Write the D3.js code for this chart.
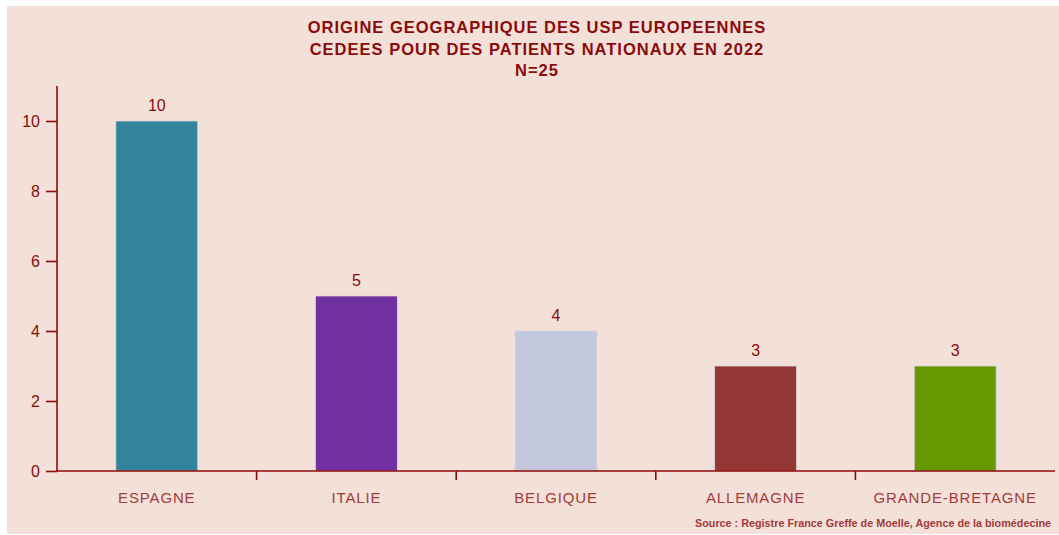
<!DOCTYPE html>
<html>
<head>
<meta charset="utf-8">
<script src="https://cdn.jsdelivr.net/npm/d3@7"></script>
<style>
  body { margin: 0; background: #fff; }
  svg text { font-family: "Liberation Sans", Arial, sans-serif; }
</style>
</head>
<body>
<div id="chart"></div>
<script>
var countries = ["ESPAGNE", "ITALIE", "BELGIQUE", "ALLEMAGNE", "GRANDE-BRETAGNE"]
var counts = [10, 5, 4, 3, 3]
var barColors = ["#31849b", "#7030a0", "#c3c8dd", "#943634", "#669900"]
var yTicks = [0, 2, 4, 6, 8, 10]
var titleLines = ["ORIGINE GEOGRAPHIQUE DES USP EUROPEENNES",
                  "CEDEES POUR DES PATIENTS NATIONAUX EN 2022",
                  "N=25"]
var source = "Source : Registre France Greffe de Moelle, Agence de la biomédecine"

var svgWidth = 1059
var svgHeight = 535
var margin = { top: 86, right: 4, bottom: 64, left: 57 }
var width = svgWidth - margin.left - margin.right
var height = svgHeight - margin.top - margin.bottom
var red = "#8b0a0a"

var svg = d3.select("#chart").append("svg")
    .attr("width", svgWidth)
    .attr("height", svgHeight)

svg.append("rect")
    .attr("x", 7).attr("y", 6)
    .attr("width", svgWidth - 7).attr("height", svgHeight - 7)
    .style("fill", "#f3e1d9")

svg.append("g").selectAll("text").data(titleLines)
    .enter().append("text")
    .attr("x", 537)
    .attr("y", function(d, i) { return 33 + i * 21.5 })
    .attr("text-anchor", "middle")
    .style("font-size", "16.5px").style("font-weight", "bold")
    .style("letter-spacing", "1px")
    .style("fill", red)
    .text(function(d) { return d })

var chart = svg.append("g")
    .attr("transform", "translate(" + margin.left + "," + margin.top + ")")

var data = countries.map(function(c, i) {
    return { country: c, count: counts[i], color: barColors[i] }
})

var x = d3.scaleBand()
    .range([0, width])
    .domain(countries)
    .paddingInner(0.59)
    .paddingOuter(0.295)

var y = d3.scaleLinear()
    .range([height, 0])
    .domain([0, 11])

chart.selectAll("rect.bar").data(data)
    .enter().append("rect").attr("class", "bar")
    .attr("x", function(d) { return x(d.country) })
    .attr("y", function(d) { return y(d.count) })
    .attr("width", x.bandwidth())
    .attr("height", function(d) { return y(0) - y(d.count) })
    .style("fill", function(d) { return d.color })
    .style("stroke", "#d9d4d8").style("stroke-width", 0.8)

chart.selectAll("text.value").data(data)
    .enter().append("text").attr("class", "value")
    .attr("x", function(d) { return x(d.country) + x.bandwidth() / 2 })
    .attr("y", function(d) { return y(d.count) - 10 })
    .attr("text-anchor", "middle")
    .style("font-size", "16px").style("fill", red)
    .text(function(d) { return d.count })

// y axis
var yAxis = d3.axisLeft(y).tickValues(yTicks).tickSize(11).tickPadding(6)
chart.append("g")
    .attr("class", "axis y")
    .call(yAxis)
    .call(function(g) {
        g.select(".domain").attr("d", "M0," + y(11) + "V" + y(0))
        g.selectAll("line, .domain").style("stroke", red).style("stroke-width", 1.6)
        g.selectAll("text").style("font-size", "16px").style("fill", red)
            .style("font-family", "Liberation Sans, Arial, sans-serif")
    })

// x axis: ticks sit between the categories
var edges = d3.scaleLinear().domain([0, countries.length]).range([0, width])
var xAxisGroup = chart.append("g")
    .attr("class", "axis x")
    .attr("transform", "translate(0," + height + ")")

xAxisGroup.append("line")
    .attr("x1", 0).attr("x2", width)
    .style("stroke", red).style("stroke-width", 1.6)

xAxisGroup.selectAll("line.sep").data(d3.range(1, countries.length))
    .enter().append("line").attr("class", "sep")
    .attr("x1", function(d) { return edges(d) })
    .attr("x2", function(d) { return edges(d) })
    .attr("y1", 0).attr("y2", 9)
    .style("stroke", red).style("stroke-width", 1.6)

xAxisGroup.selectAll("text").data(countries)
    .enter().append("text")
    .attr("x", function(d) { return x(d) + x.bandwidth() / 2 })
    .attr("y", 32)
    .attr("text-anchor", "middle")
    .style("font-size", "15px").style("letter-spacing", "0.85px")
    .style("fill", "#a33a3a")
    .text(function(d) { return d })

svg.append("text")
    .attr("x", 1051).attr("y", 527)
    .attr("text-anchor", "end")
    .style("font-size", "10.8px").style("font-weight", "bold")
    .style("fill", "#a33a3a")
    .text(source)
</script>
</body>
</html>
